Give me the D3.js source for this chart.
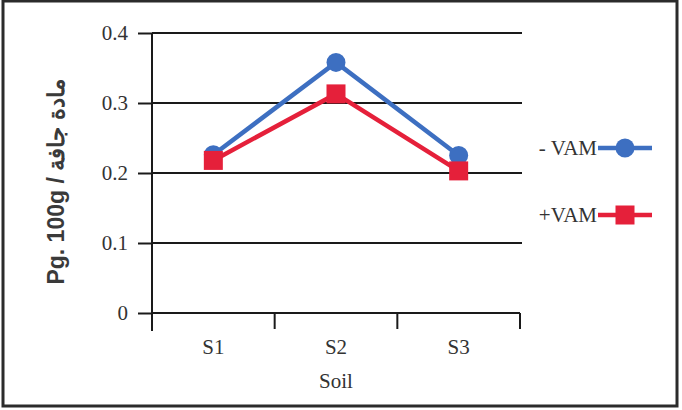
<!DOCTYPE html>
<html>
<head>
<meta charset="utf-8">
<script src="https://cdn.jsdelivr.net/npm/d3@7"></script>
</head>
<body style="margin:0;background:#fff">
<svg id="s" width="682" height="410"></svg>
<script>
// Soil categories and phosphorus readings per treatment
const soils = ["S1", "S2", "S3"];
const minusVAM = [0.226, 0.358, 0.225];
const plusVAM = [0.218, 0.313, 0.203];
const yTicks = [0, 0.1, 0.2, 0.3, 0.4];
const seriesNames = ["- VAM", "+VAM"];

const svg = d3.select("#s");
const plot = { left: 152, right: 520, top: 33, bottom: 313 };

const blue = "#3d6fc1";
const red = "#e5203a";
const serifFont = "Liberation Serif";
const sansFont = "Liberation Sans";
const textColor = "#333";

// Outer frame
svg.append("rect")
  .attr("x", 3).attr("y", 1).attr("width", 674).attr("height", 405)
  .attr("fill", "#fff").attr("stroke", "#2b2b2b").attr("stroke-width", 3);

const x = d3.scaleBand().domain(soils).range([plot.left, plot.right]);
const y = d3.scaleLinear().domain([0, 0.4]).range([plot.bottom, plot.top]);

// Horizontal gridlines
svg.append("g").selectAll("line")
  .data(yTicks.filter(t => t > 0))
  .join("line")
  .attr("x1", plot.left).attr("x2", plot.right + 2)
  .attr("y1", d => y(d)).attr("y2", d => y(d))
  .attr("stroke", "#1a1a1a").attr("stroke-width", 2);

// Y axis
const yAxis = svg.append("g")
  .attr("transform", `translate(${plot.left},0)`)
  .call(d3.axisLeft(y).tickValues(yTicks)
    .tickFormat(d => d === 0 ? "0" : d3.format(".1f")(d))
    .tickSize(14).tickPadding(10));
yAxis.attr("font-family", serifFont).attr("font-size", 21);
yAxis.select(".domain").remove();
yAxis.selectAll(".tick line").attr("stroke", "#1a1a1a").attr("stroke-width", 2);
yAxis.selectAll(".tick text")
  .attr("font-family", serifFont).attr("font-size", 21).attr("fill", textColor);
svg.append("line")
  .attr("x1", plot.left).attr("x2", plot.left)
  .attr("y1", plot.top).attr("y2", plot.bottom + 18)
  .attr("stroke", "#1a1a1a").attr("stroke-width", 2);

// X axis with ticks at band edges
svg.append("line")
  .attr("x1", plot.left).attr("x2", plot.right)
  .attr("y1", plot.bottom).attr("y2", plot.bottom)
  .attr("stroke", "#1a1a1a").attr("stroke-width", 2);
svg.append("g").selectAll("line")
  .data(soils.map(s => x(s) + x.bandwidth()))
  .join("line")
  .attr("x1", d => d).attr("x2", d => d)
  .attr("y1", plot.bottom).attr("y2", plot.bottom + 16)
  .attr("stroke", "#1a1a1a").attr("stroke-width", 2);
svg.append("g").selectAll("text")
  .data(soils)
  .join("text")
  .attr("x", d => x(d) + x.bandwidth() / 2)
  .attr("y", plot.bottom + 41)
  .attr("text-anchor", "middle")
  .attr("font-family", serifFont).attr("font-size", 21).attr("fill", textColor)
  .text(d => d);

// Axis titles
svg.append("text")
  .attr("x", (plot.left + plot.right) / 2).attr("y", 388)
  .attr("text-anchor", "middle")
  .attr("font-family", serifFont).attr("font-size", 21).attr("fill", textColor)
  .text("Soil");
svg.append("text")
  .attr("transform", "translate(64,182) rotate(-90)")
  .attr("text-anchor", "middle")
  .attr("font-family", sansFont).attr("font-size", 23).attr("font-weight", "bold")
  .attr("fill", "#3a3a3a")
  .text("Pg. 100g / مادة جافة");

// Series lines and markers
const line = d3.line().x((d, i) => x(soils[i]) + x.bandwidth() / 2).y(d => y(d));

svg.append("path").datum(minusVAM)
  .attr("d", line).attr("fill", "none")
  .attr("stroke", blue).attr("stroke-width", 4.5);
svg.append("g").selectAll("circle")
  .data(minusVAM).join("circle")
  .attr("cx", (d, i) => x(soils[i]) + x.bandwidth() / 2)
  .attr("cy", d => y(d)).attr("r", 9.5)
  .attr("fill", blue);

svg.append("path").datum(plusVAM)
  .attr("d", line).attr("fill", "none")
  .attr("stroke", red).attr("stroke-width", 4.5);
const sq = 19;
svg.append("g").selectAll("rect")
  .data(plusVAM).join("rect")
  .attr("x", (d, i) => x(soils[i]) + x.bandwidth() / 2 - sq / 2)
  .attr("y", d => y(d) - sq / 2)
  .attr("width", sq).attr("height", sq)
  .attr("fill", red);

// Legend
const legend = [
  { name: seriesNames[0], color: blue, shape: "circle", cy: 148 },
  { name: seriesNames[1], color: red, shape: "square", cy: 215 }
];
legend.forEach(l => {
  svg.append("text")
    .attr("x", 597).attr("y", l.cy + 7)
    .attr("text-anchor", "end")
    .attr("font-family", serifFont).attr("font-size", 21).attr("fill", textColor)
    .text(l.name);
  svg.append("line")
    .attr("x1", 598).attr("x2", 652)
    .attr("y1", l.cy).attr("y2", l.cy)
    .attr("stroke", l.color).attr("stroke-width", 4.5);
  if (l.shape === "circle") {
    svg.append("circle").attr("cx", 625).attr("cy", l.cy).attr("r", 9.5).attr("fill", l.color);
  } else {
    svg.append("rect").attr("x", 625 - sq / 2).attr("y", l.cy - sq / 2)
      .attr("width", sq).attr("height", sq).attr("fill", l.color);
  }
});
</script>
</body>
</html>
